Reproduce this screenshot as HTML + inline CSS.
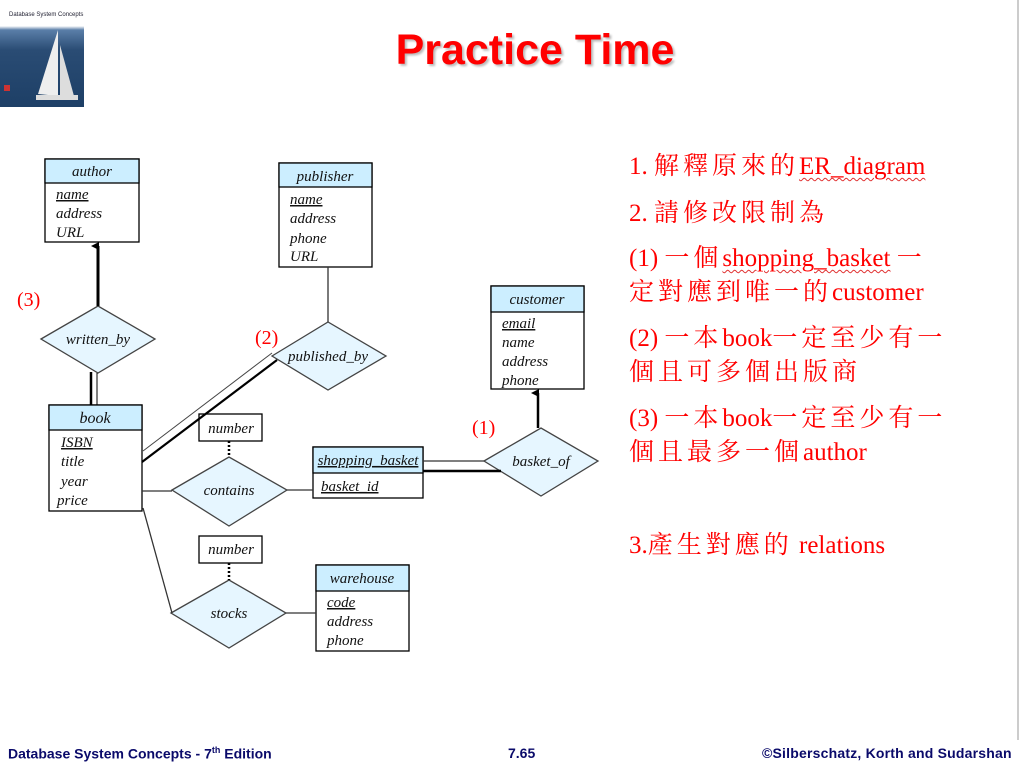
<!DOCTYPE html>
<html><head><meta charset="utf-8"><style>
html,body{margin:0;padding:0;background:#fff;}
body{width:1022px;height:764px;position:relative;overflow:hidden;font-family:"Liberation Sans",sans-serif;}
.t{position:absolute;font-family:"Liberation Serif","Noto Serif CJK SC",serif;color:#f00;font-size:25px;white-space:nowrap;left:629px;}
.c{letter-spacing:4px}
.foot{position:absolute;top:745px;font-size:14px;font-weight:bold;color:#0a0a6a;}
.sq{text-decoration:underline wavy #e03030;text-decoration-thickness:1px;text-underline-offset:3px}
</style></head><body>
<div style="position:absolute;left:0;top:0;width:84px;height:107px;background:linear-gradient(#fff 0,#fff 26px,#5a7ea8 30px,#2a4c74 50px,#1d3f66 100%);"></div>
<div style="position:absolute;left:9px;top:12px;font-size:6px;color:#223">Database System Concepts</div>
<svg style="position:absolute;left:0;top:0" width="84" height="107"><polygon points="58,30 58,96 38,94" fill="#eee"/><polygon points="60,45 74,96 60,96" fill="#ddd"/><rect x="36" y="95" width="42" height="5" fill="#ddd"/><rect x="4" y="85" width="6" height="6" fill="#c33"/></svg>
<div style="position:absolute;left:1017px;top:0;width:2px;height:740px;background:#ccc"></div>
<div style="position:absolute;left:0;top:26px;width:1070px;text-align:center;font-size:43px;font-weight:bold;color:#f00;text-shadow:2px 2px 2px #bbb">Practice Time</div>

<svg style="position:absolute;left:0;top:0" width="620" height="700" font-family="Liberation Serif,serif" font-style="italic" font-size="15">
<defs><marker id="ar" markerWidth="8" markerHeight="8" refX="4" refY="7" orient="auto-start-reverse" markerUnits="userSpaceOnUse"><polygon points="0,8 4,0 8,8" fill="#000"/></marker></defs>
<g stroke="#000" stroke-width="1.3" fill="#fff">
<rect x="45" y="159" width="94" height="83"/><rect x="45" y="159" width="94" height="24" fill="#cceeff"/>
<rect x="279" y="163" width="93" height="104"/><rect x="279" y="163" width="93" height="24" fill="#cceeff"/>
<rect x="49" y="405" width="93" height="106"/><rect x="49" y="405" width="93" height="25" fill="#cceeff"/>
<rect x="491" y="286" width="93" height="103"/><rect x="491" y="286" width="93" height="26" fill="#cceeff"/>
<rect x="313" y="447" width="110" height="51"/><rect x="313" y="447" width="110" height="26" fill="#cceeff"/>
<rect x="316" y="565" width="93" height="86"/><rect x="316" y="565" width="93" height="26" fill="#cceeff"/>
<rect x="199" y="414" width="63" height="27"/><rect x="199" y="536" width="63" height="27"/>
</g>
<g stroke="#444" stroke-width="1.3" fill="#e6f6ff">
<polygon points="41,339 98,306 155,339 98,373"/>
<polygon points="272,356 328,322 386,356 328,390"/>
<polygon points="172,490 229,457 287,490 229,526"/>
<polygon points="484,461 541,428 598,461 541,496"/>
<polygon points="171,613 229,580 286,613 229,648"/>
</g>
<g stroke="#000" fill="none">
<line x1="98" y1="306" x2="98" y2="246" stroke-width="3" marker-end="url(#ar)"/>
<line x1="538" y1="428" x2="538" y2="393" stroke-width="2.5" marker-end="url(#ar)"/>
<line x1="91" y1="372" x2="91" y2="405" stroke-width="2.5"/>
<line x1="97" y1="373" x2="97" y2="405" stroke-width="1"/>
<line x1="328" y1="267" x2="328" y2="322" stroke-width="1.3" stroke="#333"/>
<line x1="143" y1="451" x2="272" y2="353" stroke-width="1" stroke="#444"/>
<line x1="142" y1="462" x2="277" y2="360" stroke-width="2.2"/>
<line x1="142" y1="491" x2="172" y2="491" stroke-width="1.3" stroke="#333"/>
<line x1="287" y1="490" x2="313" y2="490" stroke-width="1.3" stroke="#333"/>
<line x1="423" y1="461" x2="484" y2="461" stroke-width="1.3" stroke="#333"/>
<line x1="423" y1="471" x2="501" y2="471" stroke-width="2.5"/>
<line x1="143" y1="508" x2="172" y2="613" stroke-width="1.3" stroke="#333"/>
<line x1="286" y1="613" x2="316" y2="613" stroke-width="1.3" stroke="#333"/>
<line x1="229" y1="441" x2="229" y2="457" stroke-width="2.5" stroke-dasharray="2,2"/>
<line x1="229" y1="563" x2="229" y2="580" stroke-width="2.5" stroke-dasharray="2,2"/>
</g>
<g fill="#111">
<text x="92" y="176" text-anchor="middle">author</text>
<text x="56" y="199" text-decoration="underline">name</text><text x="56" y="218">address</text><text x="56" y="237">URL</text>
<text x="325" y="181" text-anchor="middle">publisher</text>
<text x="290" y="204" text-decoration="underline">name</text><text x="290" y="223">address</text><text x="290" y="243">phone</text><text x="290" y="261">URL</text>
<text x="95" y="423" text-anchor="middle" font-size="16">book</text>
<text x="61" y="447" text-decoration="underline">ISBN</text><text x="61" y="466">title</text><text x="61" y="486">year</text><text x="57" y="505">price</text>
<text x="537" y="304" text-anchor="middle">customer</text>
<text x="502" y="328" text-decoration="underline">email</text><text x="502" y="347">name</text><text x="502" y="366">address</text><text x="502" y="385">phone</text>
<text x="368" y="465" text-anchor="middle" text-decoration="underline wavy #e03030">shopping_basket</text>
<text x="321" y="491" text-decoration="underline wavy #e03030">basket_id</text>
<text x="362" y="583" text-anchor="middle">warehouse</text>
<text x="327" y="607" text-decoration="underline">code</text><text x="327" y="626">address</text><text x="327" y="645">phone</text>
<text x="231" y="433" text-anchor="middle">number</text><text x="231" y="554" text-anchor="middle">number</text>
<text x="98" y="344" text-anchor="middle">written_by</text>
<text x="328" y="361" text-anchor="middle">published_by</text>
<text x="229" y="495" text-anchor="middle">contains</text>
<text x="541" y="466" text-anchor="middle">basket_of</text>
<text x="229" y="618" text-anchor="middle">stocks</text>
</g>
<g fill="#f00" font-style="normal" font-size="20">
<text x="17" y="306">(3)</text><text x="255" y="344">(2)</text><text x="472" y="434">(1)</text>
</g>
</svg>

<div class="t" style="top:146px">1. <span class="c">解釋原來的</span><span class="sq">ER_diagram</span></div>
<div class="t" style="top:193px">2. <span class="c">請修改限制為</span></div>
<div class="t" style="top:238px">(1) <span class="c">一個</span><span class="sq">shopping_basket</span> <span class="c">一</span></div>
<div class="t" style="top:272px"><span class="c">定對應到唯一的</span>customer</div>
<div class="t" style="top:318px">(2) <span class="c">一本</span>book<span class="c">一定至少有一</span></div>
<div class="t" style="top:352px"><span class="c">個且可多個出版商</span></div>
<div class="t" style="top:398px">(3) <span class="c">一本</span>book<span class="c">一定至少有一</span></div>
<div class="t" style="top:432px"><span class="c">個且最多一個</span>author</div>
<div class="t" style="top:525px">3.<span class="c">產生對應的</span> relations</div>

<div class="foot" style="left:8px">Database System Concepts - 7<sup style="font-size:9px">th</sup> Edition</div>
<div class="foot" style="left:508px">7.65</div>
<div class="foot" style="left:762px;letter-spacing:0.2px">©Silberschatz, Korth and Sudarshan</div>
</body></html>
